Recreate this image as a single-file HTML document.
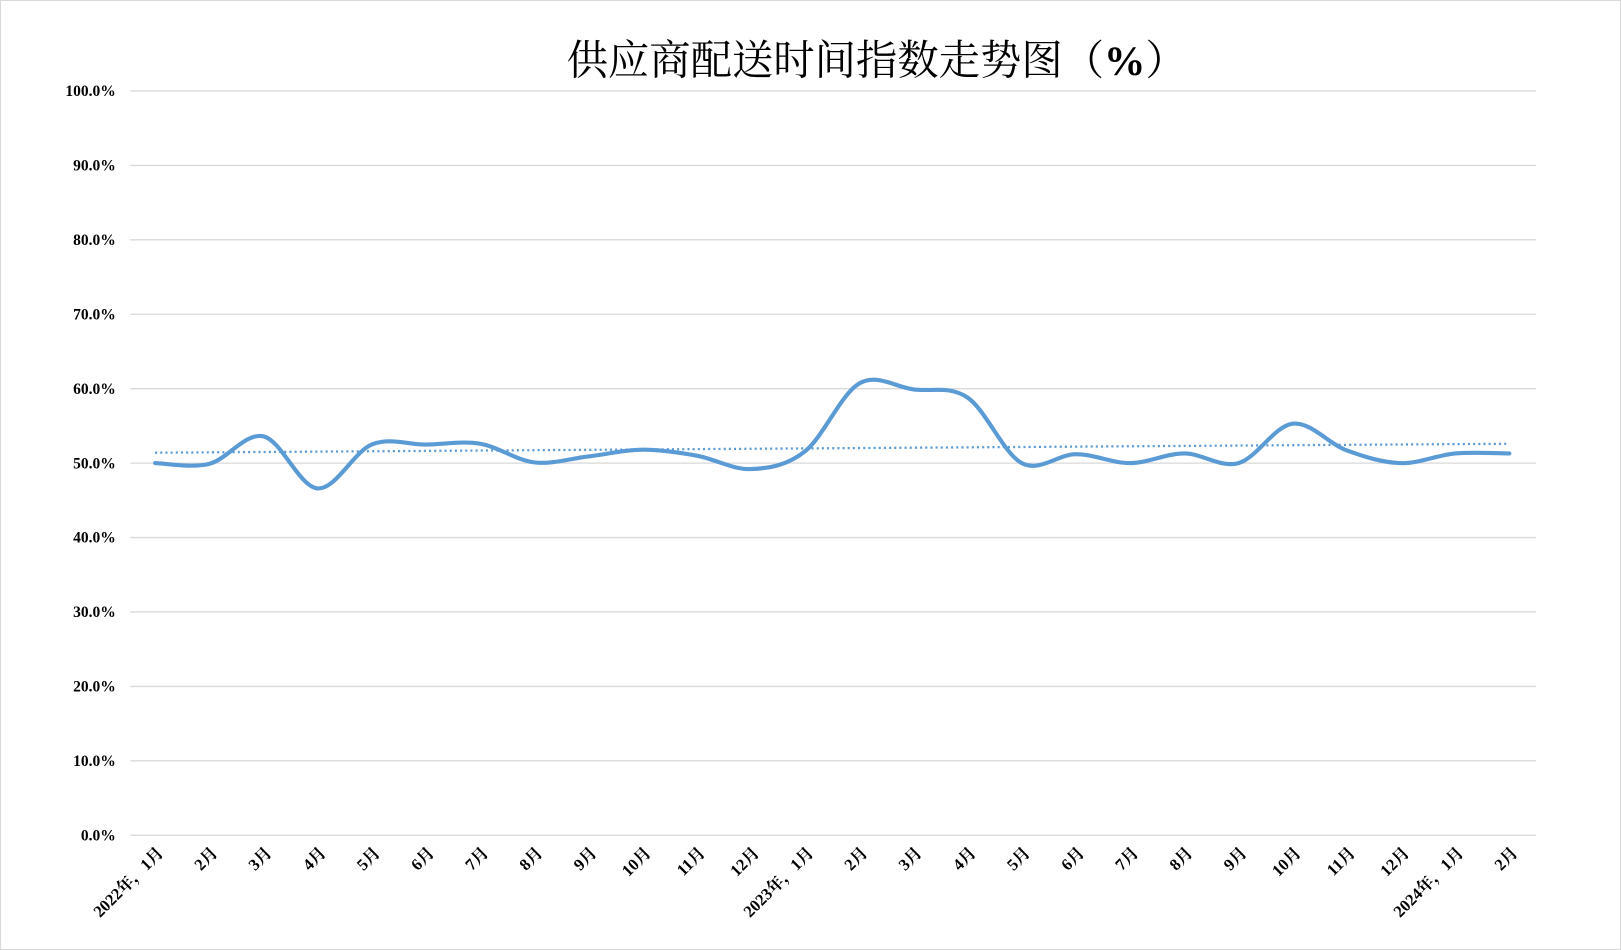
<!DOCTYPE html>
<html><head><meta charset="utf-8"><style>
html,body{margin:0;padding:0;background:#fff;}
svg{display:block}
</style></head><body>
<svg id="c" width="1621" height="950" viewBox="0 0 1568 919" preserveAspectRatio="none" xmlns="http://www.w3.org/2000/svg">
<rect x="0.5" y="0.5" width="1567" height="918" fill="#fff" stroke="#d9d9d9"/>
<text x="848" y="72" text-anchor="middle" font-family="'Liberation Serif','Noto Serif CJK SC',serif" font-size="40" fill="#000">供应商配送时间指数走势图（<tspan font-weight="bold">%</tspan>）</text>
<g id="grid"></g>
<path id="trend" fill="none" stroke="#5b9bd5" stroke-width="2.2" stroke-dasharray="2,3"/>
<path id="line" fill="none" stroke="#5b9bd5" stroke-width="4" stroke-linecap="round"/>
<g id="xl"></g>
</svg>
<script>
var NS="http://www.w3.org/2000/svg";
function el(t,a,txt){var e=document.createElementNS(NS,t);for(var k in a)e.setAttribute(k,a[k]);if(txt)e.textContent=txt;return e;}
var g=document.getElementById('grid');
function Y(v){return 808-v*7.2;}
for(var i=0;i<=10;i++){var y=Y(i*10);
g.appendChild(el('line',{x1:126,x2:1486,y1:y,y2:y,stroke:'#d9d9d9','stroke-width':1.3}));
g.appendChild(el('text',{x:112,y:y+5,'text-anchor':'end','font-family':"'Liberation Serif',serif",'font-weight':'bold','font-size':15},(i*10)+'.0%'));}
var v=[50.0,49.9,53.6,46.6,52.5,52.5,52.6,50.1,50.9,51.8,51.0,49.2,51.6,60.7,59.9,58.8,50.0,51.2,50.0,51.3,50.0,55.3,51.7,50.0,51.3,51.3];
var labs=['2022年，1月','2月','3月','4月','5月','6月','7月','8月','9月','10月','11月','12月','2023年，1月','2月','3月','4月','5月','6月','7月','8月','9月','10月','11月','12月','2024年，1月','2月'];
function X(i){return 150+i*52.4;}
var p=[];for(i=0;i<v.length;i++)p.push([X(i),Y(v[i])]);
var d='M'+p[0][0]+','+p[0][1];
for(i=0;i<p.length-1;i++){var p0=p[Math.max(0,i-1)],p1=p[i],p2=p[i+1],p3=p[Math.min(p.length-1,i+2)];var t=0.5/3;
var c1x=p1[0]+(p2[0]-p0[0])*t,c1y=p1[1]+(p2[1]-p0[1])*t,c2x=p2[0]-(p3[0]-p1[0])*t,c2y=p2[1]-(p3[1]-p1[1])*t;
d+=' C'+c1x+','+c1y+' '+c2x+','+c2y+' '+p2[0]+','+p2[1];}
document.getElementById('line').setAttribute('d',d);
document.getElementById('trend').setAttribute('d','M'+X(0)+','+Y(51.4)+' L'+X(25)+','+Y(52.6));
var xl=document.getElementById('xl');
for(i=0;i<labs.length;i++){var x=X(i)+9,y=826;
xl.appendChild(el('text',{x:x,y:y,'text-anchor':'end',transform:'rotate(-45 '+x+' '+y+')','font-family':"'Liberation Serif','Noto Serif CJK SC',serif",'font-weight':'bold','font-size':16},labs[i]));}
</script>
</body></html>
